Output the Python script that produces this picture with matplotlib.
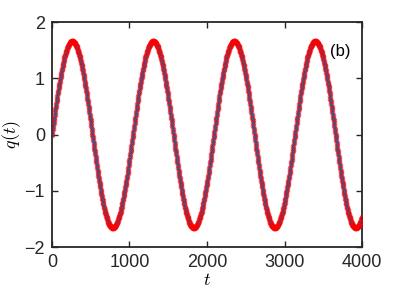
import numpy as np
import matplotlib
matplotlib.use("Agg")
import matplotlib.pyplot as plt

# q(t) (4000 time units, 797 samples)
q = [
    # cycle 1
    0.00, 0.05, 0.10, 0.15, 0.20, 0.25, 0.30, 0.35, 0.40, 0.45, 0.49, 0.54, 0.59, 0.64, 0.68, 0.73, 0.77, 0.82,
    0.86, 0.90, 0.94, 0.98, 1.02, 1.06, 1.10, 1.14, 1.17, 1.21, 1.24, 1.28, 1.31, 1.34, 1.37, 1.39, 1.42, 1.45,
    1.47, 1.49, 1.51, 1.53, 1.55, 1.57, 1.58, 1.60, 1.61, 1.62, 1.63, 1.64, 1.65, 1.65, 1.66, 1.66, 1.66,
    1.66, 1.66, 1.65, 1.65, 1.64, 1.63, 1.62, 1.61, 1.60, 1.58, 1.57, 1.55, 1.53, 1.51, 1.49, 1.47, 1.45, 1.42,
    1.39, 1.37, 1.34, 1.31, 1.28, 1.24, 1.21, 1.17, 1.14, 1.10, 1.06, 1.02, 0.98, 0.94, 0.90, 0.86, 0.82, 0.77,
    0.73, 0.68, 0.64, 0.59, 0.54, 0.49, 0.45, 0.40, 0.35, 0.30, 0.25, 0.20, 0.15, 0.10, 0.05, 0.00,
    -0.05, -0.10, -0.15, -0.20, -0.25, -0.30, -0.35, -0.40, -0.45, -0.49, -0.54, -0.59, -0.64, -0.68, -0.73,
    -0.77, -0.82, -0.86, -0.90, -0.94, -0.98, -1.02, -1.06, -1.10, -1.14, -1.17, -1.21, -1.24, -1.28, -1.31,
    -1.34, -1.37, -1.39, -1.42, -1.45, -1.47, -1.49, -1.51, -1.53, -1.55, -1.57, -1.58, -1.60, -1.61, -1.62,
    -1.63, -1.64, -1.65, -1.65, -1.66, -1.66, -1.66,
    -1.66, -1.66, -1.65, -1.65, -1.64, -1.63, -1.62, -1.61, -1.60, -1.58, -1.57, -1.55, -1.53, -1.51, -1.49,
    -1.47, -1.45, -1.42, -1.39, -1.37, -1.34, -1.31, -1.28, -1.24, -1.21, -1.17, -1.14, -1.10, -1.06, -1.02,
    -0.98, -0.94, -0.90, -0.86, -0.82, -0.77, -0.73, -0.68, -0.64, -0.59, -0.54, -0.49, -0.45, -0.40, -0.35,
    -0.30, -0.25, -0.20, -0.15, -0.10, -0.05,
    # cycle 2
    0.00, 0.05, 0.10, 0.15, 0.20, 0.25, 0.30, 0.35, 0.40, 0.45, 0.49, 0.54, 0.59, 0.64, 0.68, 0.73, 0.77, 0.82,
    0.86, 0.90, 0.94, 0.98, 1.02, 1.06, 1.10, 1.14, 1.17, 1.21, 1.24, 1.28, 1.31, 1.34, 1.37, 1.39, 1.42, 1.45,
    1.47, 1.49, 1.51, 1.53, 1.55, 1.57, 1.58, 1.60, 1.61, 1.62, 1.63, 1.64, 1.65, 1.65, 1.66, 1.66, 1.66,
    1.66, 1.66, 1.65, 1.65, 1.64, 1.63, 1.62, 1.61, 1.60, 1.58, 1.57, 1.55, 1.53, 1.51, 1.49, 1.47, 1.45, 1.42,
    1.39, 1.37, 1.34, 1.31, 1.28, 1.24, 1.21, 1.17, 1.14, 1.10, 1.06, 1.02, 0.98, 0.94, 0.90, 0.86, 0.82, 0.77,
    0.73, 0.68, 0.64, 0.59, 0.54, 0.49, 0.45, 0.40, 0.35, 0.30, 0.25, 0.20, 0.15, 0.10, 0.05, 0.00,
    -0.05, -0.10, -0.15, -0.20, -0.25, -0.30, -0.35, -0.40, -0.45, -0.49, -0.54, -0.59, -0.64, -0.68, -0.73,
    -0.77, -0.82, -0.86, -0.90, -0.94, -0.98, -1.02, -1.06, -1.10, -1.14, -1.17, -1.21, -1.24, -1.28, -1.31,
    -1.34, -1.37, -1.39, -1.42, -1.45, -1.47, -1.49, -1.51, -1.53, -1.55, -1.57, -1.58, -1.60, -1.61, -1.62,
    -1.63, -1.64, -1.65, -1.65, -1.66, -1.66, -1.66,
    -1.66, -1.66, -1.65, -1.65, -1.64, -1.63, -1.62, -1.61, -1.60, -1.58, -1.57, -1.55, -1.53, -1.51, -1.49,
    -1.47, -1.45, -1.42, -1.39, -1.37, -1.34, -1.31, -1.28, -1.24, -1.21, -1.17, -1.14, -1.10, -1.06, -1.02,
    -0.98, -0.94, -0.90, -0.86, -0.82, -0.77, -0.73, -0.68, -0.64, -0.59, -0.54, -0.49, -0.45, -0.40, -0.35,
    -0.30, -0.25, -0.20, -0.15, -0.10, -0.05,
    # cycle 3
    0.00, 0.05, 0.10, 0.15, 0.20, 0.25, 0.30, 0.35, 0.40, 0.45, 0.49, 0.54, 0.59, 0.64, 0.68, 0.73, 0.77, 0.82,
    0.86, 0.90, 0.94, 0.98, 1.02, 1.06, 1.10, 1.14, 1.17, 1.21, 1.24, 1.28, 1.31, 1.34, 1.37, 1.39, 1.42, 1.45,
    1.47, 1.49, 1.51, 1.53, 1.55, 1.57, 1.58, 1.60, 1.61, 1.62, 1.63, 1.64, 1.65, 1.65, 1.66, 1.66, 1.66,
    1.66, 1.66, 1.65, 1.65, 1.64, 1.63, 1.62, 1.61, 1.60, 1.58, 1.57, 1.55, 1.53, 1.51, 1.49, 1.47, 1.45, 1.42,
    1.39, 1.37, 1.34, 1.31, 1.28, 1.24, 1.21, 1.17, 1.14, 1.10, 1.06, 1.02, 0.98, 0.94, 0.90, 0.86, 0.82, 0.77,
    0.73, 0.68, 0.64, 0.59, 0.54, 0.49, 0.45, 0.40, 0.35, 0.30, 0.25, 0.20, 0.15, 0.10, 0.05, 0.00,
    -0.05, -0.10, -0.15, -0.20, -0.25, -0.30, -0.35, -0.40, -0.45, -0.49, -0.54, -0.59, -0.64, -0.68, -0.73,
    -0.77, -0.82, -0.86, -0.90, -0.94, -0.98, -1.02, -1.06, -1.10, -1.14, -1.17, -1.21, -1.24, -1.28, -1.31,
    -1.34, -1.37, -1.39, -1.42, -1.45, -1.47, -1.49, -1.51, -1.53, -1.55, -1.57, -1.58, -1.60, -1.61, -1.62,
    -1.63, -1.64, -1.65, -1.65, -1.66, -1.66, -1.66,
    -1.66, -1.66, -1.65, -1.65, -1.64, -1.63, -1.62, -1.61, -1.60, -1.58, -1.57, -1.55, -1.53, -1.51, -1.49,
    -1.47, -1.45, -1.42, -1.39, -1.37, -1.34, -1.31, -1.28, -1.24, -1.21, -1.17, -1.14, -1.10, -1.06, -1.02,
    -0.98, -0.94, -0.90, -0.86, -0.82, -0.77, -0.73, -0.68, -0.64, -0.59, -0.54, -0.49, -0.45, -0.40, -0.35,
    -0.30, -0.25, -0.20, -0.15, -0.10, -0.05,
    # cycle 4 (partial)
    0.00, 0.05, 0.10, 0.15, 0.20, 0.25, 0.30, 0.35, 0.40, 0.45, 0.49, 0.54, 0.59, 0.64, 0.68, 0.73, 0.77, 0.82,
    0.86, 0.90, 0.94, 0.98, 1.02, 1.06, 1.10, 1.14, 1.17, 1.21, 1.24, 1.28, 1.31, 1.34, 1.37, 1.39, 1.42, 1.45,
    1.47, 1.49, 1.51, 1.53, 1.55, 1.57, 1.58, 1.60, 1.61, 1.62, 1.63, 1.64, 1.65, 1.65, 1.66, 1.66, 1.66,
    1.66, 1.66, 1.65, 1.65, 1.64, 1.63, 1.62, 1.61, 1.60, 1.58, 1.57, 1.55, 1.53, 1.51, 1.49, 1.47, 1.45, 1.42,
    1.39, 1.37, 1.34, 1.31, 1.28, 1.24, 1.21, 1.17, 1.14, 1.10, 1.06, 1.02, 0.98, 0.94, 0.90, 0.86, 0.82, 0.77,
    0.73, 0.68, 0.64, 0.59, 0.54, 0.49, 0.45, 0.40, 0.35, 0.30, 0.25, 0.20, 0.15, 0.10, 0.05, 0.00,
    -0.05, -0.10, -0.15, -0.20, -0.25, -0.30, -0.35, -0.40, -0.45, -0.49, -0.54, -0.59, -0.64, -0.68, -0.73,
    -0.77, -0.82, -0.86, -0.90, -0.94, -0.98, -1.02, -1.06, -1.10, -1.14, -1.17, -1.21, -1.24, -1.28, -1.31,
    -1.34, -1.37, -1.39, -1.42, -1.45, -1.47, -1.49, -1.51, -1.53, -1.55, -1.57, -1.58, -1.60, -1.61, -1.62,
    -1.63, -1.64, -1.65, -1.65, -1.66, -1.66, -1.66,
    -1.66, -1.66, -1.65, -1.65, -1.64, -1.63, -1.62, -1.61, -1.60, -1.58, -1.57, -1.55, -1.53, -1.51, -1.49,
    -1.47,
]

t_start, t_end = 0, 4000
t = np.linspace(t_start, t_end, len(q))

xticks = [0, 1000, 2000, 3000, 4000]
yticks = [-2, -1, 0, 1, 2]
panel_label = '(b)'

plt.rcParams['font.family'] = ['Liberation Sans', 'DejaVu Sans']
plt.rcParams['mathtext.fontset'] = 'cm'

fig = plt.figure(figsize=(3.99, 2.99), dpi=100)
ax = fig.add_axes([0.1303, 0.1739, 0.777, 0.7525])

# blue trace underneath, hollow red circles on top
ax.plot(t, q, color='#0072BD', lw=0.6, marker='.', ms=3.2, zorder=2)
ax.plot(t, q, ls='none', marker='o', ms=3.4, mfc='none', mec='red', mew=0.55, alpha=0.8, zorder=3)

ax.set_xlim(0, 4000)
ax.set_ylim(-2, 2)
ax.set_xticks(xticks)
ax.set_yticks(yticks)
ax.tick_params(direction='in', length=4, width=1, top=True, right=True, labelsize=13,
               colors='#262626', pad=5)
for s in ax.spines.values():
    s.set_linewidth(1.3)
    s.set_color('#262626')

ax.set_xlabel(r'$t$', fontsize=13, labelpad=1)
ax.set_ylabel(r'$q(t)$', fontsize=13, labelpad=1)
ax.text(3720, 1.47, panel_label, fontsize=12, ha='center', va='center')

fig.savefig('out.png', dpi=100)
